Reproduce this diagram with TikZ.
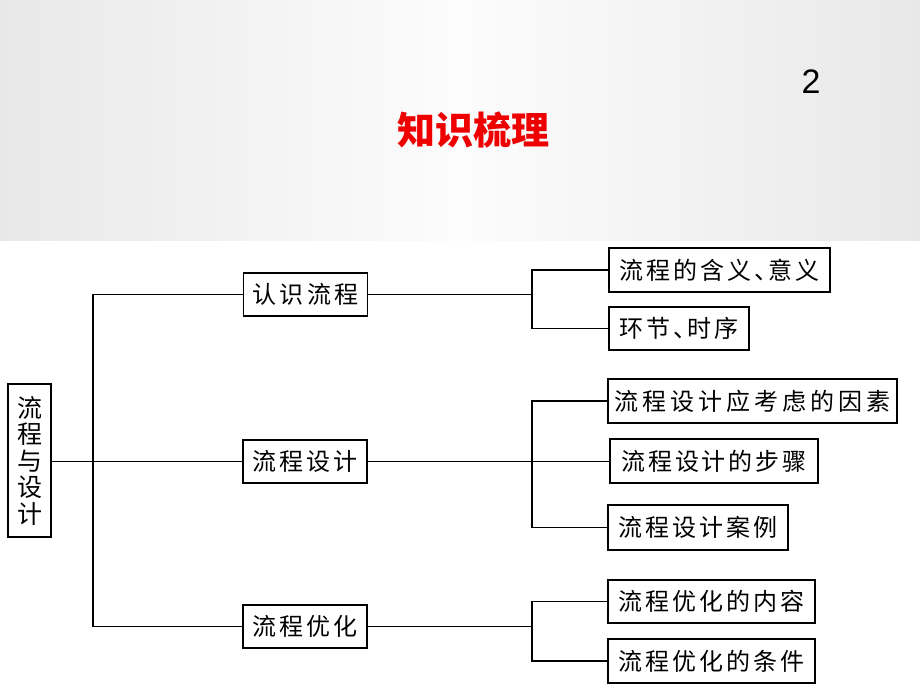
\documentclass[tikz,border=0pt]{standalone}
\usepackage{fontspec}
\newfontfamily\cjk{Noto Sans CJK SC}
\newfontfamily\cjkmid[LetterSpace=13]{Noto Sans CJK SC}
\newfontfamily\cjkleaf[LetterSpace=12]{Noto Sans CJK SC}
\newfontfamily\cjkwide[LetterSpace=17]{Noto Sans CJK SC}
\newfontfamily\numfont{Liberation Sans}
\definecolor{titlered}{RGB}{238,0,0}
\definecolor{bgedge}{RGB}{232,232,232}
\definecolor{bgmid}{RGB}{252,252,252}
\begin{document}
\begin{tikzpicture}[x=1pt,y=-1pt,
  box/.style={draw=black, line width=1.3pt, inner sep=0pt, align=center, text=black},
  rootbox/.style={box, minimum width=43pt, minimum height=153pt, font=\cjk\fontsize{25}{26.5}\selectfont},
  midbox/.style={box, minimum width=124pt, minimum height=43pt, font=\cjkmid\fontsize{24}{24}\selectfont},
  leafbox/.style={box, minimum height=44pt, font=\cjkleaf\fontsize{24}{24}\selectfont},
  widebox/.style={box, minimum height=44pt, font=\cjkwide\fontsize{24}{24}\selectfont},
  link/.style={line width=1.3pt, draw=black}]
\useasboundingbox (0,0) rectangle (920,690);
\fill[white] (0,0) rectangle (920,690);
\shade[left color=bgedge, right color=bgedge, middle color=bgmid] (0,0) rectangle (920,240);

% title and page number
\node[text=titlered, font=\cjk\bfseries\fontsize{38}{38}\selectfont, inner sep=0pt] (title) at (473,130) {知识梳理};
\node[font=\numfont\fontsize{34}{34}\selectfont, inner sep=0pt] (pnum) at (811,82) {2};

% nodes
\node[rootbox] (root) at (29.5,460.5) {流\\程\\与\\设\\计};
\node[midbox] (A) at (305.5,294.5) {认识流程};
\node[midbox] (B) at (305,461.5) {流程设计};
\node[midbox] (C) at (305,626.5) {流程优化};

\node[leafbox, minimum width=221pt] (A1) at (719.5,270) {流程的含义、\kern-10pt意义};
\node[leafbox, minimum width=140pt, minimum height=43pt] (A2) at (679,328.5) {环节、\kern-10pt时序};
\node[widebox, minimum width=289pt] (B1) at (752.5,401) {流程设计应考虑的因素};
\node[leafbox, minimum width=208pt] (B2) at (714,461) {流程设计的步骤};
\node[leafbox, minimum width=180pt, minimum height=45pt] (B3) at (698,527.5) {流程设计案例};
\node[leafbox, minimum width=207pt, minimum height=43pt] (C1) at (711.5,601.5) {流程优化的内容};
\node[leafbox, minimum width=207pt] (C2) at (711.5,661) {流程优化的条件};

% helper coordinates for the vertical bars
\coordinate (tr) at (93,0);
\coordinate (ba) at (532,0);

% connectors
\draw[link] (root.east |- B.west) -- (B.west);
\draw[link] (A.west) -- (A.west -| tr) -- (C.west -| tr) -- (C.west);

\draw[link] (A.east) -- (A.east -| ba);
\draw[link] (A1.west) -- (A1.west -| ba) -- (A2.west -| ba) -- (A2.west);

\draw[link] (B.east) -- (B.east -| B2.west);
\draw[link] (B1.west) -- (B1.west -| ba) -- (B3.west -| ba) -- (B3.west);

\draw[link] (C.east) -- (C.east -| ba);
\draw[link] (C1.west) -- (C1.west -| ba) -- (C2.west -| ba) -- (C2.west);
\end{tikzpicture}
\end{document}
